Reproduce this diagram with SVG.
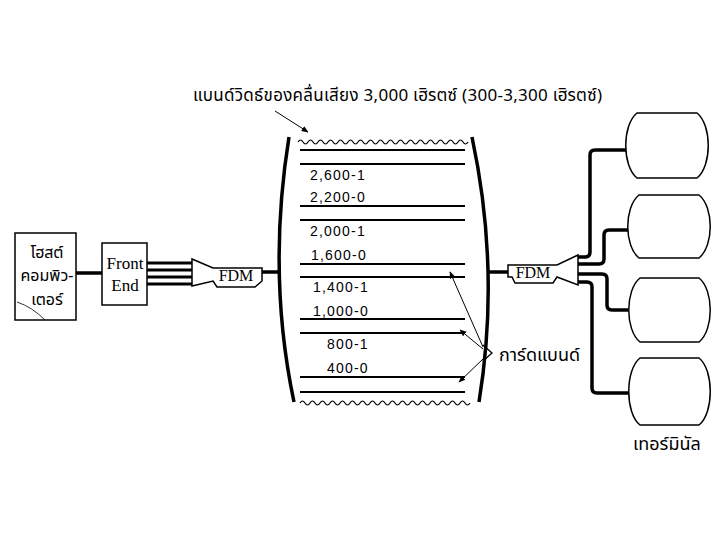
<svg xmlns="http://www.w3.org/2000/svg" width="720" height="540" viewBox="0 0 720 540">
<style>
.thai{font-family:"Noto Sans Thai","Noto Serif Thai","Loma","Garuda","Norasi","DejaVu Sans","Noto Sans",sans-serif;fill:#000}
.ser{font-family:"Liberation Serif","Times New Roman",serif;fill:#000}
.num{font-family:"Liberation Sans",Arial,sans-serif;font-size:14px;letter-spacing:1.2px;fill:#000}
.box{fill:#fff;stroke:#000;stroke-width:1.5}
.band{stroke:#000;stroke-width:2;fill:none}
.thick{stroke:#000;stroke-width:3.5;fill:none;stroke-linejoin:round}
.thin{stroke:#000;stroke-width:1;fill:none}
.wave{stroke:#000;stroke-width:1.2;fill:none}
</style>
<defs>
<marker id="ah" viewBox="0 0 10 10" refX="9" refY="5" markerWidth="7" markerHeight="7" orient="auto" markerUnits="userSpaceOnUse">
<path d="M0,1 L10,5 L0,9 Z" fill="#000"/>
</marker>
</defs>
<rect width="720" height="540" fill="#fff"/>

<text class="thai" x="193" y="101" font-size="17" textLength="409" lengthAdjust="spacing">แบนด์วิดธ์ของคลื่นเสียง 3,000 เฮิรตซ์ (300-3,300 เฮิรตซ์)</text>

<g id="connectors">
<path class="thick" d="M76,273 H102"/>
<path d="M147,263 H193 M147,270 H193 M147,277 H193 M147,284 H193" stroke="#000" stroke-width="3.2"/>
<path class="thick" d="M262,272 H280" stroke-width="4"/>
<path class="thick" d="M489,272 H508" stroke-width="4"/>
<path class="thick" d="M578,257 H585 Q590,257 590,252 V155 Q590,150 595,150 H626"/>
<path class="thick" d="M578,264 H599 Q604,264 604,259 V235 Q604,230 609,230 H628"/>
<path class="thick" d="M578,274 H602 Q607,274 607,279 V305 Q607,310 612,310 H629"/>
<path class="thick" d="M578,282 H587 Q592,282 592,287 V388 Q592,393 597,393 H629"/>
<path class="thin" d="M275,111 L308,132" marker-end="url(#ah)"/>
<path class="thin" d="M483,347 L450,272" marker-end="url(#ah)"/>
<path class="thin" d="M483,349 L460,330" marker-end="url(#ah)"/>
<path class="thin" d="M483,359 L459,382" marker-end="url(#ah)"/>
<path d="M483,345 L492,353 L483,361" stroke="#000" stroke-width="1.3" fill="none"/>
</g>

<g id="host">
<rect class="box" x="15" y="233" width="61" height="87"/>
<path d="M17,302 Q32,307 45,320" stroke="#000" stroke-width="0.8" fill="none"/>
<text class="thai" font-size="16" text-anchor="middle" x="47" y="258">โฮสต์</text>
<text class="thai" font-size="16" text-anchor="middle" x="47" y="281">คอมพิว-</text>
<text class="thai" font-size="16" text-anchor="middle" x="47" y="305">เตอร์</text>
</g>

<g id="frontend">
<rect class="box" x="102" y="243" width="45" height="62"/>
<text class="ser" font-size="17" text-anchor="middle" x="125" y="269">Front</text>
<text class="ser" font-size="17" text-anchor="middle" x="125" y="291">End</text>
</g>

<g id="fdm-left">
<path class="box" stroke-width="1.3" d="M192,259 L213,268 H262 V281 L255,287 H217 L213,281 L192,286 Z"/>
<text class="ser" font-size="16" text-anchor="middle" x="236" y="281">FDM</text>
</g>

<g id="channel">
<path class="thick" d="M289,137 Q267,274 294,402"/>
<path class="thick" d="M472,137 Q500.5,270.5 479,402"/>
<path class="wave" d="M298,142 q2.5,-4 5,0 t5,0 t5,0 t5,0 t5,0 t5,0 t5,0 t5,0 t5,0 t5,0 t5,0 t5,0 t5,0 t5,0 t5,0 t5,0 t5,0 t5,0 t5,0 t5,0 t5,0 t5,0 t5,0 t5,0 t5,0 t5,0 t5,0 t5,0 t5,0 t5,0 t5,0 t5,0 t5,0 t5,0"/>
<path class="wave" d="M300,403 q2.5,-4 5,0 t5,0 t5,0 t5,0 t5,0 t5,0 t5,0 t5,0 t5,0 t5,0 t5,0 t5,0 t5,0 t5,0 t5,0 t5,0 t5,0 t5,0 t5,0 t5,0 t5,0 t5,0 t5,0 t5,0 t5,0 t5,0 t5,0 t5,0 t5,0 t5,0 t5,0 t5,0 t5,0 t5,0"/>
<path class="band" d="M300,150 H465 M300,164 H465 M300,206 H465 M300,220 H465 M300,264 H465 M300,277 H465 M300,319 H465 M300,333 H465 M300,377 H465 M300,392 H465"/>
<text class="num" x="310" y="180">2,600-1</text>
<text class="num" x="310" y="202">2,200-0</text>
<text class="num" x="310" y="236">2,000-1</text>
<text class="num" x="311" y="260">1,600-0</text>
<text class="num" x="313" y="292">1,400-1</text>
<text class="num" x="313" y="316">1,000-0</text>
<text class="num" x="327" y="349">800-1</text>
<text class="num" x="327" y="373">400-0</text>
</g>

<text class="thai" font-size="18" x="499" y="361">การ์ดแบนด์</text>

<g id="fdm-right">
<path class="box" stroke-width="1.3" d="M578,255 L557,265 H508 V277 L512,277 L515,283 H553 L557,277 L578,285 Z"/>
<text class="ser" font-size="16" text-anchor="middle" x="533" y="278">FDM</text>
</g>

<g id="terminal1"><path class="box" d="M637,113 H697 C712,125 712,166 697,178 H637 C622,166 622,125 637,113 Z"/></g>
<g id="terminal2"><path class="box" d="M639,195 H699 C714,207 714,246 699,258 H639 C624,246 624,207 639,195 Z"/></g>
<g id="terminal3"><path class="box" d="M640,278 H699 C714,290 714,330 699,342 H640 C625,330 625,290 640,278 Z"/></g>
<g id="terminal4"><path class="box" d="M640,358 H699 C714,370 714,413 699,425 H640 C625,413 625,370 640,358 Z"/></g>
<text class="thai" font-size="18" x="633" y="450">เทอร์มินัล</text>
</svg>
